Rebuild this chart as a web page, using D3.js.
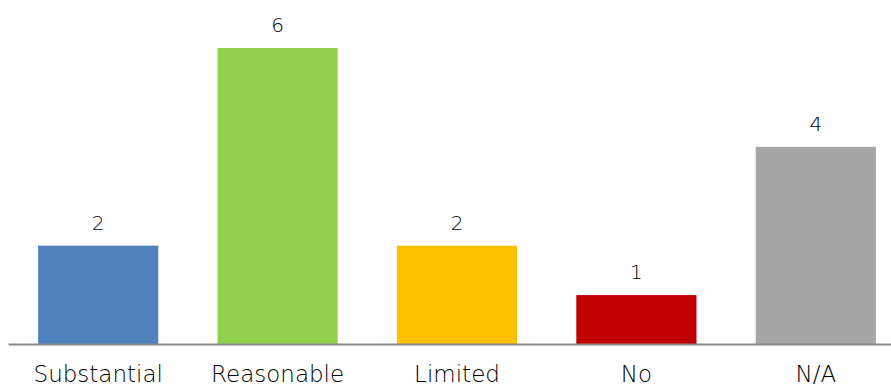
<!DOCTYPE html>
<html>
<head>
<meta charset="utf-8">
<script src="https://cdn.jsdelivr.net/npm/d3@7"></script>
<style>
  body { margin: 0; background: #fff; }
  text { font-family: "DejaVu Sans", sans-serif; fill: #000; }
</style>
</head>
<body>
<div id="chart"></div>
<script>
let categories = ['Substantial', 'Reasonable', 'Limited', 'No', 'N/A'];
let counts = [2, 6, 2, 1, 4];
let colors = ['#4F81BD', '#92D050', '#FFC000', '#C00000', '#A6A6A6'];

let width = 891;
let height = 389;
let baseline = 344.5; // y of the category axis

let svg = d3.select('#chart')
  .append('svg')
  .attr('width', width)
  .attr('height', height);

let xScale = d3.scaleBand()
  .domain(categories)
  .range([8.5, 905.5])
  .paddingInner(0.33)
  .paddingOuter(0.165);

let yScale = d3.scaleLinear()
  .domain([0, 6])
  .range([baseline, 48]);

// bars
svg.selectAll('rect.bar')
  .data(categories)
  .enter()
  .append('rect')
  .attr('class', 'bar')
  .attr('x', d => xScale(d))
  .attr('y', (d, i) => yScale(counts[i]))
  .attr('width', xScale.bandwidth())
  .attr('height', (d, i) => baseline - yScale(counts[i]))
  .attr('fill', (d, i) => colors[i]);

// value labels
svg.selectAll('text.val')
  .data(categories)
  .enter()
  .append('text')
  .attr('class', 'val')
  .attr('x', d => xScale(d) + xScale.bandwidth() / 2)
  .attr('y', (d, i) => yScale(counts[i]) - 16)
  .attr('text-anchor', 'middle')
  .style('font-size', '20px')
  .style('font-weight', '300')
  .text((d, i) => counts[i]);

// x axis
let xAxis = svg.append('g')
  .attr('transform', `translate(0,${baseline})`)
  .call(d3.axisBottom(xScale).tickSize(0).tickPadding(21));

xAxis.select('.domain')
  .attr('d', `M8.5,0H${width}`)
  .attr('stroke', '#898989')
  .attr('stroke-width', 2);

xAxis.selectAll('text')
  .style('font-size', '23px')
  .style('font-weight', '300')
  .style('font-family', '"DejaVu Sans", sans-serif')
  .attr('fill', '#000');
</script>
</body>
</html>
